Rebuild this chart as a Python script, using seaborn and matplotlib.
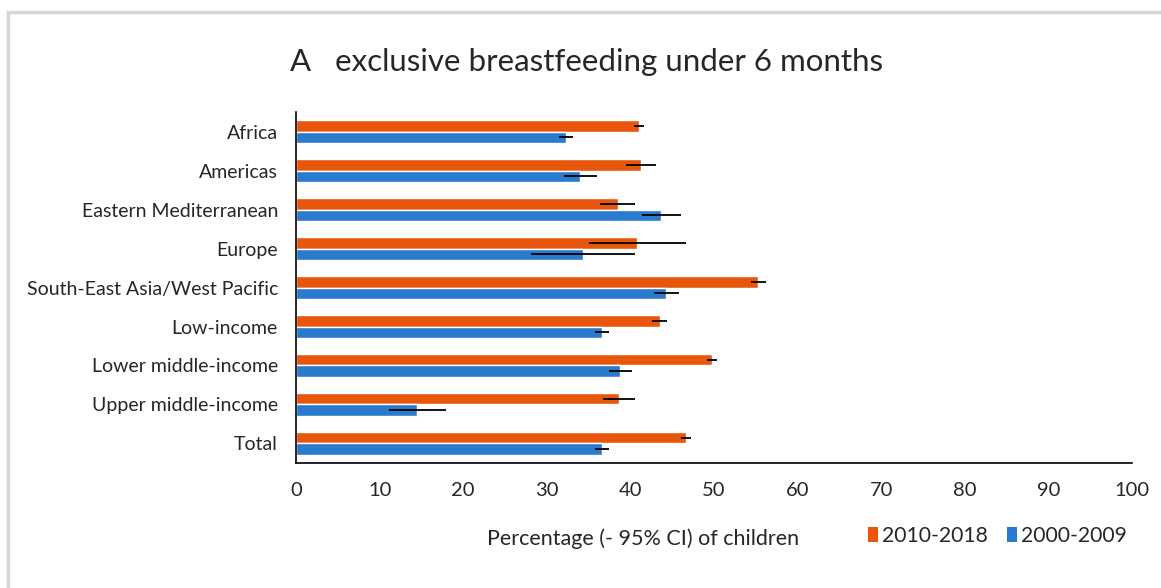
import matplotlib
matplotlib.use("Agg")
import matplotlib.pyplot as plt
from matplotlib.patches import Rectangle, Patch
import seaborn as sns
import pandas as pd
import numpy as np

categories = [
    "Africa", "Americas", "Eastern Mediterranean", "Europe",
    "South-East Asia/West Pacific", "Low-income", "Lower middle-income",
    "Upper middle-income", "Total",
]
periods = ["2010-2018", "2000-2009"]

# Point estimates (%) and half-widths of the 95% CI
recent_pct = [41.0, 41.3, 38.5, 40.8, 55.3, 43.5, 49.8, 38.6, 46.6]
recent_ci = [0.6, 1.8, 2.1, 5.8, 0.9, 0.9, 0.6, 1.9, 0.6]
earlier_pct = [32.3, 34.0, 43.7, 34.3, 44.3, 36.6, 38.8, 14.5, 36.6]
earlier_ci = [0.8, 2.0, 2.3, 6.2, 1.5, 0.8, 1.4, 3.4, 0.8]

x_ticks = [0, 10, 20, 30, 40, 50, 60, 70, 80, 90, 100]

colors = {"2010-2018": "#E8560C", "2000-2009": "#2A7BCD"}

df = pd.DataFrame({
    "region": categories * 2,
    "period": [periods[0]] * len(categories) + [periods[1]] * len(categories),
    "pct": recent_pct + earlier_pct,
    "ci": recent_ci + earlier_ci,
})

sns.set_style("white")
plt.rcParams["font.family"] = ["Lato", "DejaVu Sans"]

fig = plt.figure(figsize=(11.61, 5.88), dpi=100)
ax = fig.add_axes([0.255, 0.2126, 0.72, 0.5969])

sns.barplot(
    data=df, y="region", x="pct", hue="period", order=categories,
    hue_order=periods, palette=colors, orient="h", width=0.58,
    errorbar=None, ax=ax, legend=False, saturation=1,
)

# CI whiskers centred on each bar end
for period, container in zip(periods, ax.containers):
    sub = df[df["period"] == period].set_index("region").loc[categories]
    ys = [p.get_y() + p.get_height() / 2 for p in container.patches]
    ax.errorbar(sub["pct"].values, ys, xerr=sub["ci"].values, fmt="none",
                ecolor="black", elinewidth=1.3, capsize=0, zorder=5)

ax.set_xlim(0, 100)
ax.set_ylim(len(categories) - 0.5, -0.5)
ax.set_xticks(x_ticks)
ax.set_xticklabels([str(t) for t in x_ticks], fontsize=14.5)
ax.set_yticks(range(len(categories)))
ax.set_yticklabels(categories, fontsize=14)
ax.set_yticks(np.arange(-0.5, len(categories), 1.0), minor=True)
ax.tick_params(axis="y", which="major", length=0, pad=13)
ax.tick_params(axis="y", which="minor", length=5, width=1.2, color="black",
               direction="out")
ax.tick_params(axis="x", which="major", length=7, width=1.0, color="black",
               direction="out", pad=7)

for side in ["top", "right"]:
    ax.spines[side].set_visible(False)
for side in ["left", "bottom"]:
    ax.spines[side].set_color("black")
    ax.spines[side].set_linewidth(1.2)

ax.set_ylabel("")
ax.set_xlabel("Percentage (- 95% CI) of children", fontsize=15.5)
ax.xaxis.set_label_coords(0.415, -0.185)

fig.text(0.250, 0.895, "A   exclusive breastfeeding under 6 months",
         fontsize=22.5, ha="left", va="center")

handles = [Patch(facecolor=colors[p], edgecolor="none", label=p) for p in periods]
fig.legend(handles=handles, loc="center left", bbox_to_anchor=(0.748, 0.088),
           ncol=2, frameon=False, fontsize=15.2, handlelength=0.45,
           handleheight=0.7, handletextpad=0.2, columnspacing=0.9,
           borderaxespad=0, borderpad=0)

# light frame around the panel
fig.patches.append(Rectangle((0.007, -0.05), 1.1, 1.03, transform=fig.transFigure,
                             fill=False, edgecolor="#d6d6d6", linewidth=2.5))

fig.savefig("out.png", dpi=100, facecolor="white")
